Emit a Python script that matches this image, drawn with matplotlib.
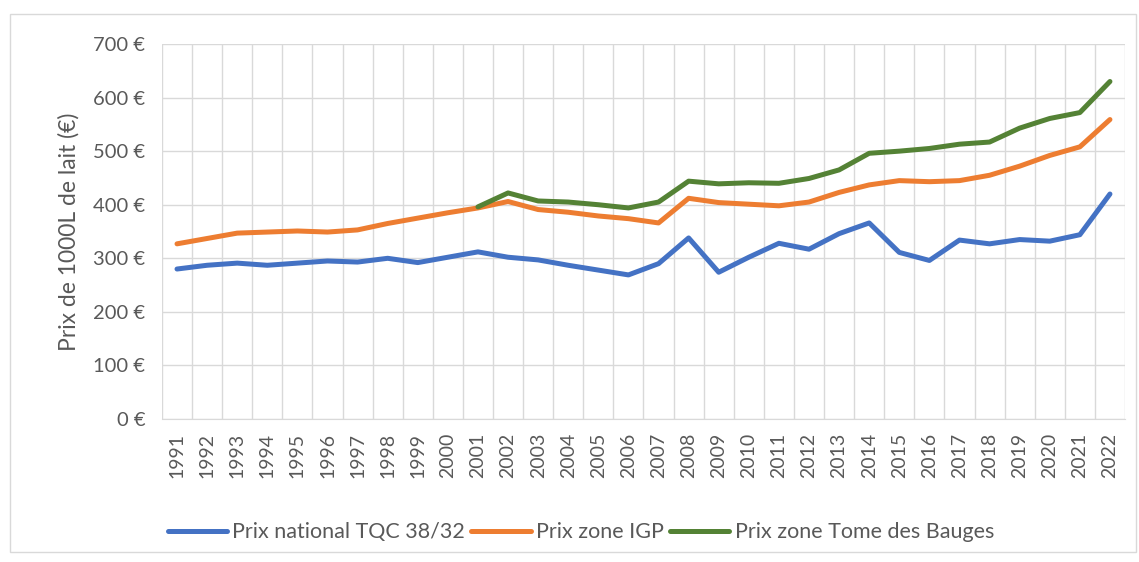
import matplotlib.pyplot as plt
import numpy as np
from matplotlib.patches import Rectangle

plt.rcParams['font.family'] = ['Lato', 'DejaVu Sans']

years = [str(y) for y in range(1991, 2023)]

prix_national = [280, 287, 291, 287, 291, 295, 293, 300, 292, 302,
                 312, 302, 297, 287, 278, 269, 290, 338, 274, 302,
                 328, 317, 346, 366, 311, 296, 334, 327, 335, 332,
                 344, 420]
prix_igp = [327, 337, 347, 349, 351, 349, 353, 365, 375, 385,
            394, 406, 391, 386, 379, 374, 366, 412, 404, 401,
            398, 405, 423, 437, 445, 443, 445, 455, 472, 492,
            508, 559]
prix_bauges = [None] * 10 + [396, 422, 407, 405, 400, 394, 405, 444, 439, 441,
                             440, 449, 465, 496, 500, 505, 513, 517, 543, 561,
                             572, 630]

yticks = [0, 100, 200, 300, 400, 500, 600, 700]
ytick_labels = [f'{v} €' for v in yticks]

text_col = '#595959'
grid_col = '#D9D9D9'

fig = plt.figure(figsize=(11.39, 5.62), dpi=100)
fig.patches.append(Rectangle((0.009, 0.018), 0.988, 0.957, transform=fig.transFigure,
                             fill=False, edgecolor='#D9D9D9', linewidth=1))
ax = fig.add_axes([0.1422, 0.2544, 0.8455, 0.6673])

x = np.arange(len(years))
bauges = np.array([np.nan if v is None else v for v in prix_bauges], dtype=float)

ax.plot(x, prix_national, color='#4472C4', lw=3.6, label='Prix national TQC 38/32', solid_capstyle='round')
ax.plot(x, prix_igp, color='#ED7D31', lw=3.6, label='Prix zone IGP', solid_capstyle='round')
ax.plot(x, bauges, color='#548235', lw=3.6, label='Prix zone Tome des Bauges', solid_capstyle='round')

ax.set_xlim(-0.5, len(years) - 0.5)
ax.set_ylim(0, 700)
ax.set_yticks(yticks)
ax.set_yticklabels(ytick_labels, fontsize=14.5, color=text_col)
ax.set_xticks(x)
ax.set_xticklabels(years, rotation=90, fontsize=14, color=text_col)
ax.set_xticks(np.arange(-0.5, len(years)), minor=True)

ax.grid(True, axis='y', which='major', color=grid_col, lw=1)
ax.grid(True, axis='x', which='minor', color=grid_col, lw=1)
ax.set_axisbelow(True)
ax.tick_params(axis='both', which='both', length=0)
ax.tick_params(axis='y', pad=12)
ax.tick_params(axis='x', pad=10)
for s in ['top', 'right', 'left']:
    ax.spines[s].set_visible(False)
ax.spines['bottom'].set_color(grid_col)

ax.set_ylabel('Prix de 1000L de lait (€)', fontsize=16.5, color=text_col, labelpad=10)

fig.legend(loc='center', bbox_to_anchor=(0.51, 0.053), ncol=3, frameon=False,
           fontsize=15.5, labelcolor=text_col, handlelength=2.75, handletextpad=0.25,
           columnspacing=0.3)

fig.savefig('out.png', dpi=100)
